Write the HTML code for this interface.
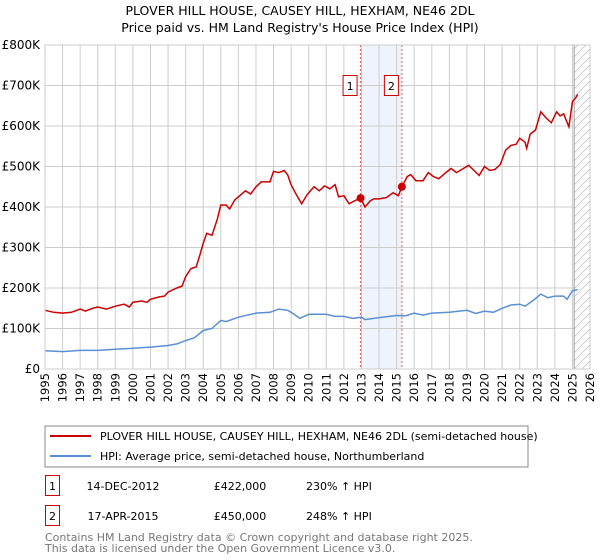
<!DOCTYPE html>
<html><head><meta charset="utf-8"><style>
body{margin:0;background:#fff;font-family:"DejaVu Sans","Liberation Sans",sans-serif;}
#wrap{position:relative;width:600px;height:560px;overflow:hidden;}
</style></head><body>
<div id="wrap">
<svg id="svg" width="600" height="560" xmlns="http://www.w3.org/2000/svg">
<defs><clipPath id="pc"><rect x="45" y="45" width="545" height="324"/></clipPath></defs>
<text x="300" y="15" text-anchor="middle" font-size="12.5">PLOVER HILL HOUSE, CAUSEY HILL, HEXHAM, NE46 2DL</text>
<text x="300" y="32" text-anchor="middle" font-size="12.5">Price paid vs. HM Land Registry's House Price Index (HPI)</text>
<g id="grid"></g><g id="marks"></g><g id="axes"></g>
<rect x="45" y="426" width="483" height="41" fill="#fff" stroke="#888"/>
<line x1="50" y1="436" x2="91" y2="436" stroke="#cc0000" stroke-width="2"/>
<text x="100" y="440" font-size="11">PLOVER HILL HOUSE, CAUSEY HILL, HEXHAM, NE46 2DL (semi-detached house)</text>
<line x1="50" y1="456" x2="91" y2="456" stroke="#5b8fd4" stroke-width="2"/>
<text x="100" y="460" font-size="11">HPI: Average price, semi-detached house, Northumberland</text>
<g>
<rect x="45.5" y="475.5" width="14" height="20" fill="#fff" stroke="#cc0000"/><text x="52.5" y="490" text-anchor="middle" font-size="11">1</text>
<text x="123" y="490" text-anchor="middle" font-size="11">14-DEC-2012</text>
<text x="240" y="490" text-anchor="middle" font-size="11">£422,000</text>
<text x="306" y="490" font-size="11">230% ↑ HPI</text></g>
<g>
<rect x="45.5" y="505.5" width="14" height="20" fill="#fff" stroke="#cc0000"/><text x="52.5" y="520" text-anchor="middle" font-size="11">2</text>
<text x="123" y="520" text-anchor="middle" font-size="11">17-APR-2015</text>
<text x="240" y="520" text-anchor="middle" font-size="11">£450,000</text>
<text x="306" y="520" font-size="11">248% ↑ HPI</text></g>
<text x="45" y="541" font-size="11" fill="#777">Contains HM Land Registry data © Crown copyright and database right 2025.</text>
<text x="45" y="552" font-size="11" fill="#777">This data is licensed under the Open Government Licence v3.0.</text>
</svg></div>
<script>
const yTicks=[0,100,200,300,400,500,600,700,800];
const yTickLabels=["£0","£100K","£200K","£300K","£400K","£500K","£600K","£700K","£800K"];
const xYears=[1995,1996,1997,1998,1999,2000,2001,2002,2003,2004,2005,2006,2007,2008,2009,2010,2011,2012,2013,2014,2015,2016,2017,2018,2019,2020,2021,2022,2023,2024,2025,2026];
const redT=[1995,1995.5,1996,1996.5,1997,1997.3,1997.7,1998,1998.5,1999,1999.5,1999.8,2000,2000.5,2000.8,2001,2001.5,2001.8,2002,2002.5,2002.8,2003,2003.3,2003.6,2003.8,2004,2004.2,2004.5,2004.8,2005,2005.3,2005.5,2005.8,2006,2006.4,2006.7,2007,2007.3,2007.8,2008,2008.3,2008.6,2008.8,2009,2009.3,2009.6,2009.9,2010.3,2010.6,2010.9,2011.2,2011.5,2011.7,2012,2012.3,2012.6,2012.95,2013.2,2013.5,2013.7,2014,2014.4,2014.8,2015.1,2015.3,2015.6,2015.8,2016.1,2016.5,2016.8,2017.1,2017.4,2017.8,2018.1,2018.4,2018.8,2019.1,2019.4,2019.7,2020,2020.3,2020.6,2020.9,2021.2,2021.5,2021.8,2022,2022.3,2022.4,2022.6,2022.9,2023.2,2023.5,2023.8,2024.1,2024.3,2024.5,2024.8,2025,2025.2,2025.3];
const redV=[145,140,138,140,148,143,150,153,148,155,160,153,165,168,165,172,178,180,190,200,205,228,248,252,280,310,335,330,370,405,405,395,418,425,440,432,450,462,462,488,485,490,480,455,430,408,430,450,440,452,445,455,425,428,408,415,422,400,415,420,420,423,435,428,450,475,480,465,465,485,475,470,485,495,485,495,503,490,478,500,490,493,505,540,552,555,570,560,545,580,590,635,620,608,635,625,630,598,660,670,678];
const hpiT=[1995,1996,1997,1998,1999,2000,2001,2002,2002.5,2003,2003.5,2004,2004.5,2005,2005.3,2006,2007,2007.8,2008.3,2008.8,2009,2009.5,2010,2011,2011.5,2012,2012.5,2013,2013.2,2014,2015,2015.5,2016,2016.5,2017,2018,2019,2019.5,2020,2020.5,2021,2021.5,2022,2022.3,2022.8,2023.2,2023.6,2024,2024.5,2024.7,2025,2025.3];
const hpiV=[45,43,46,46,49,51,54,58,62,70,77,95,100,120,117,128,138,140,148,145,140,125,135,135,130,130,125,128,122,127,132,131,138,133,138,140,145,137,143,140,150,158,160,155,170,185,176,180,180,172,193,196];
const saleT=[2012.95,2015.3];
const saleV=[422,450];
const saleLabels=["1","2"];
const L=45,R=590,T=45,B=369,X0=1995,X1=2026;
const X=t=>L+(t-X0)/(X1-X0)*(R-L);
const Y=v=>B-v/800*(B-T);
const NS="http://www.w3.org/2000/svg";
function mk(p,tag,a){const e=document.createElementNS(NS,tag);for(const k in a)e.setAttribute(k,a[k]);p.appendChild(e);return e;}
const grid=document.getElementById('grid'),marks=document.getElementById('marks'),axes=document.getElementById('axes');
const band=mk(grid,'rect',{x:X(saleT[0]),y:T,width:X(saleT[1])-X(saleT[0]),height:B-T,fill:'#eef3fc'});


xYears.forEach(y=>{mk(grid,'line',{x1:X(y),x2:X(y),y1:T,y2:B,stroke:'#ccc'});
const t=mk(axes,'text',{x:0,y:0,'text-anchor':'end','font-size':'11.5',transform:'translate('+(X(y)+4)+',373) rotate(-90)'});t.textContent=y;

});
yTicks.forEach((v,i)=>{mk(grid,'line',{x1:L,x2:R,y1:Y(v),y2:Y(v),stroke:'#ccc'});
const t=mk(axes,'text',{x:40,y:Y(v)+4,'text-anchor':'end','font-size':'12'});t.textContent=yTickLabels[i];

});
const hx=X(2025.1);
const hg=mk(grid,'g',{'clip-path':'url(#pc)'});


mk(hg,'rect',{x:hx,y:T,width:R-hx,height:B-T,fill:'#fff'});
for(let yy=T-20;yy<B+20;yy+=8){mk(hg,'line',{x1:hx,y1:yy+(R-hx),x2:R,y2:yy,stroke:'#bbb','stroke-width':0.7});}
mk(hg,'line',{x1:hx,x2:hx,y1:T,y2:B,stroke:'#999'});
mk(axes,'rect',{x:L,y:T,width:R-L,height:B-T,fill:'none',stroke:'#ccc'});
saleT.forEach((t,i)=>{const l=mk(marks,'line',{x1:X(t),x2:X(t),y1:T,y2:B,stroke:'#e55','stroke-dasharray':'2,2','stroke-width':1});


const g=mk(marks,'g',{});


mk(g,'rect',{x:X(t)-17.5,y:75.5,width:14,height:20,fill:'#fff',stroke:'#cc0000'});
const tx=mk(g,'text',{x:X(t)-10.5,y:90,'text-anchor':'middle','font-size':'11'});tx.textContent=saleLabels[i];});
function line(ts,vs,col,name){const p=mk(marks,'path',{d:ts.map((t,i)=>(i?'L':'M')+X(t).toFixed(1)+','+Y(vs[i]).toFixed(1)).join(''),fill:'none',stroke:col,'stroke-width':1.5});

}
line(hpiT,hpiV,'#5b8fd4','hpi-line');
line(redT,redV,'#cc0000','property-price-line');
saleT.forEach((t,i)=>{const c=mk(marks,'circle',{cx:X(t),cy:Y(saleV[i]),r:4,fill:'#cc0000'});

});
</script>
</body></html>
